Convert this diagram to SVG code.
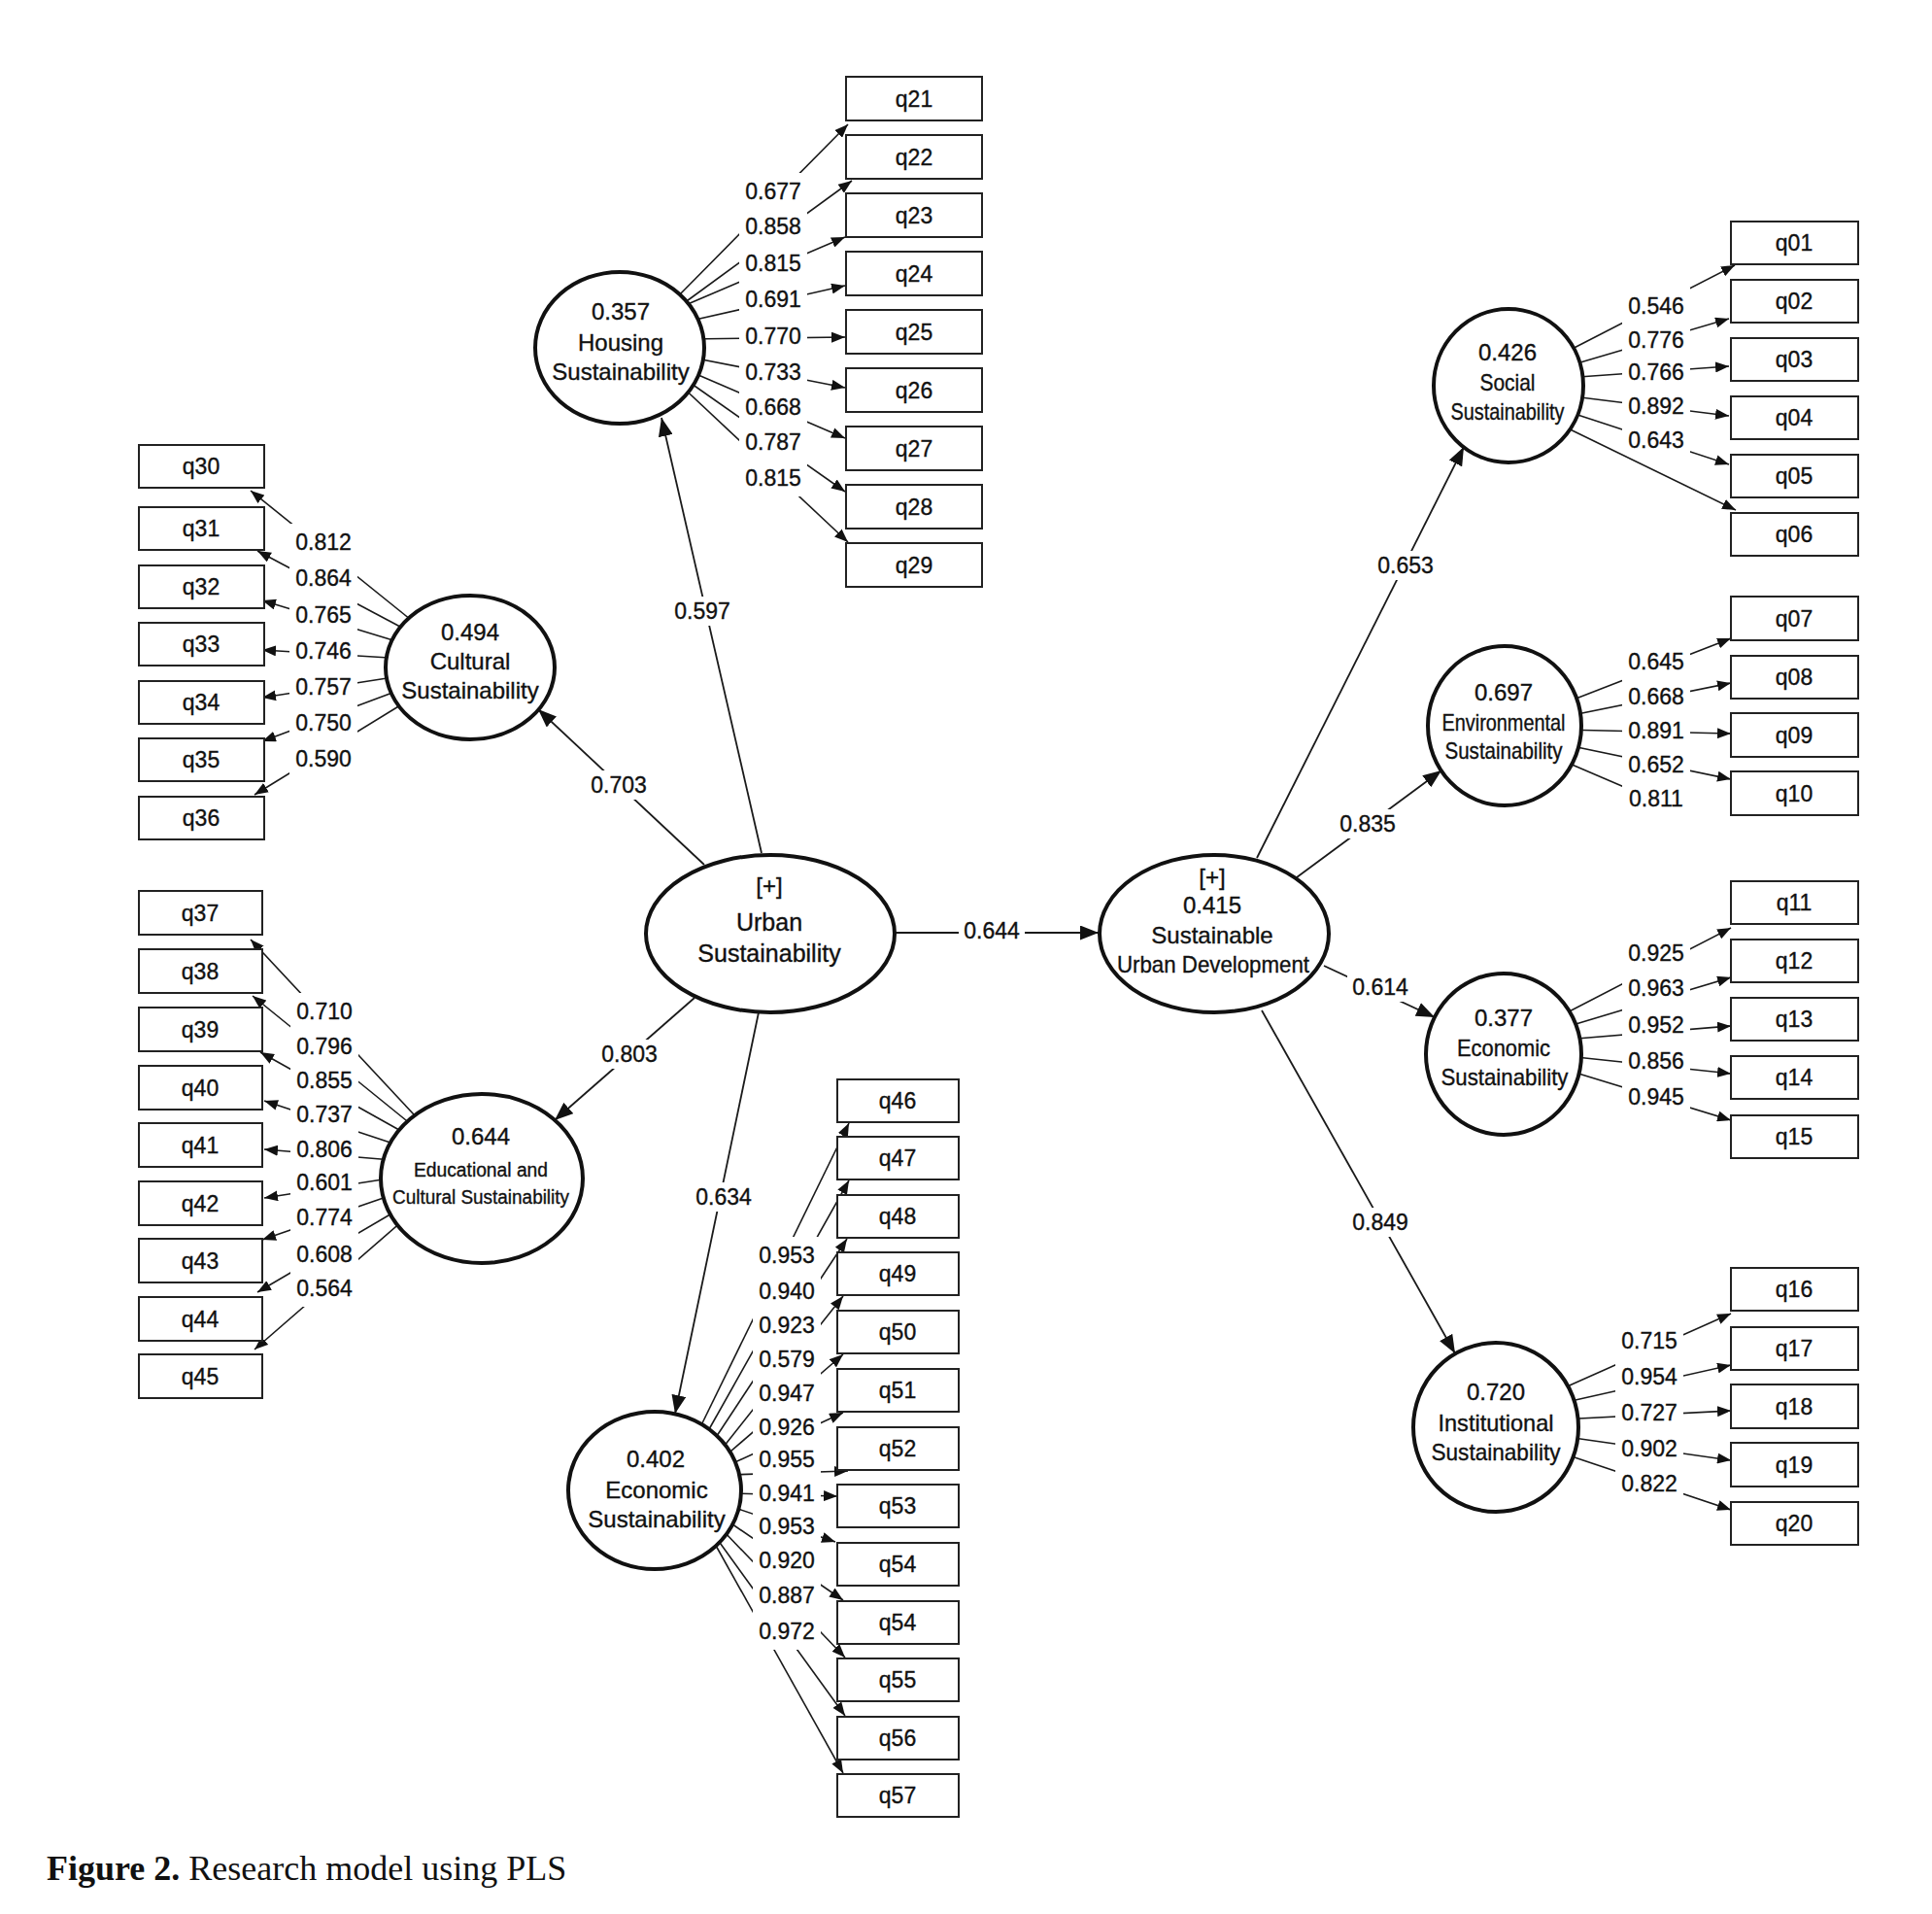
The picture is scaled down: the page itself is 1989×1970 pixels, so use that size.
<svg xmlns="http://www.w3.org/2000/svg" width="1989" height="1970" viewBox="0 0 1989 1970">
<style>
text{font-family:"Liberation Sans",Arial,sans-serif;fill:#111;stroke:#111;stroke-width:0.35}
.c{stroke:#1a1a1a;stroke-width:1.6;fill:none;marker-end:url(#ah)}
.c0{stroke:#1a1a1a;stroke-width:1.6;fill:none}
.s{stroke:#1a1a1a;stroke-width:1.8;fill:none;marker-end:url(#AH)}
.bg{fill:#fff}
.lb{font-size:23px;text-anchor:middle}
.lv ellipse{fill:#fff;stroke:#111;stroke-width:4}
.lv text{font-size:24px;text-anchor:middle}
.mv rect{fill:#fff;stroke:#222;stroke-width:2}
.mv text{font-size:23px;text-anchor:middle}
.cap{font-family:"Liberation Serif","Times New Roman",serif;font-size:36px;stroke:none}
</style>
<defs>
<marker id="ah" markerUnits="userSpaceOnUse" markerWidth="14" markerHeight="11" refX="14" refY="5.5" orient="auto"><path d="M0,0 L14,5.5 L0,11 z" fill="#111"/></marker>
<marker id="AH" markerUnits="userSpaceOnUse" markerWidth="19" markerHeight="15" refX="19" refY="7.5" orient="auto"><path d="M0,0 L19,7.5 L0,15 z" fill="#111"/></marker>
</defs>
<rect width="1989" height="1970" fill="#fff"/>

<g id="connectors">
<line class="s" x1="784" y1="878" x2="681" y2="430"/>
<line class="s" x1="725" y1="890" x2="554" y2="730"/>
<line class="s" x1="715" y1="1027" x2="571" y2="1153"/>
<line class="s" x1="781" y1="1042" x2="695" y2="1455"/>
<line class="s" x1="921" y1="960" x2="1131" y2="960"/>
<line class="s" x1="1294" y1="883" x2="1507" y2="460"/>
<line class="s" x1="1335" y1="903" x2="1484" y2="793"/>
<line class="s" x1="1363" y1="994" x2="1477" y2="1047"/>
<line class="s" x1="1299" y1="1040" x2="1498" y2="1393"/>
<line class="c" x1="695" y1="308" x2="873" y2="128"/>
<line class="c" x1="700" y1="315" x2="877" y2="186"/>
<line class="c" x1="701" y1="316" x2="870" y2="244"/>
<line class="c" x1="707" y1="331" x2="870" y2="294"/>
<line class="c" x1="709" y1="349" x2="870" y2="347"/>
<line class="c" x1="707" y1="367" x2="870" y2="399"/>
<line class="c" x1="705" y1="380" x2="870" y2="451"/>
<line class="c" x1="702" y1="388" x2="870" y2="506"/>
<line class="c" x1="698" y1="394" x2="873" y2="558"/>
<line class="c" x1="433" y1="646" x2="258" y2="505"/>
<line class="c" x1="427" y1="653" x2="265" y2="567"/>
<line class="c" x1="421" y1="664" x2="270" y2="618"/>
<line class="c" x1="417" y1="678" x2="270" y2="669"/>
<line class="c" x1="418" y1="695" x2="270" y2="718"/>
<line class="c" x1="420" y1="707" x2="270" y2="763"/>
<line class="c" x1="425" y1="718" x2="262" y2="818"/>
<line class="c" x1="439" y1="1161" x2="258" y2="967"/>
<line class="c" x1="434" y1="1166" x2="260" y2="1025"/>
<line class="c" x1="427" y1="1172" x2="268" y2="1083"/>
<line class="c" x1="420" y1="1182" x2="272" y2="1133"/>
<line class="c" x1="416" y1="1195" x2="272" y2="1183"/>
<line class="c" x1="413" y1="1211" x2="272" y2="1233"/>
<line class="c" x1="415" y1="1226" x2="270" y2="1276"/>
<line class="c" x1="417" y1="1241" x2="265" y2="1330"/>
<line class="c" x1="422" y1="1250" x2="262" y2="1389"/>
<line class="c" x1="718" y1="1475" x2="874" y2="1156"/>
<line class="c" x1="725" y1="1480" x2="874" y2="1215"/>
<line class="c" x1="732" y1="1487" x2="872" y2="1275"/>
<line class="c" x1="741" y1="1494" x2="868" y2="1334"/>
<line class="c" x1="745" y1="1500" x2="868" y2="1394"/>
<line class="c" x1="748" y1="1509" x2="868" y2="1454"/>
<line class="c" x1="750" y1="1518" x2="873" y2="1514"/>
<line class="c" x1="752" y1="1537" x2="862" y2="1540"/>
<line class="c" x1="751" y1="1550" x2="860" y2="1587"/>
<line class="c" x1="747" y1="1564" x2="868" y2="1647"/>
<line class="c" x1="744" y1="1575" x2="870" y2="1706"/>
<line class="c" x1="739" y1="1585" x2="870" y2="1766"/>
<line class="c" x1="736" y1="1589" x2="868" y2="1825"/>
<line class="c" x1="1605" y1="366" x2="1786" y2="273"/>
<line class="c" x1="1610" y1="378" x2="1780" y2="328"/>
<line class="c" x1="1611" y1="389" x2="1780" y2="377"/>
<line class="c" x1="1611" y1="407" x2="1780" y2="428"/>
<line class="c" x1="1609" y1="422" x2="1780" y2="478"/>
<line class="c" x1="1600" y1="434" x2="1787" y2="525"/>
<line class="c" x1="1607" y1="725" x2="1782" y2="657"/>
<line class="c" x1="1609" y1="738" x2="1782" y2="703"/>
<line class="c" x1="1609" y1="751" x2="1782" y2="755"/>
<line class="c" x1="1609" y1="766" x2="1782" y2="802"/>
<line class="c0" x1="1602" y1="780" x2="1700" y2="822"/>
<line class="c" x1="1604" y1="1047" x2="1782" y2="955"/>
<line class="c" x1="1609" y1="1058" x2="1782" y2="1006"/>
<line class="c" x1="1611" y1="1070" x2="1782" y2="1056"/>
<line class="c" x1="1613" y1="1087" x2="1782" y2="1105"/>
<line class="c" x1="1612" y1="1101" x2="1782" y2="1153"/>
<line class="c" x1="1600" y1="1433" x2="1782" y2="1352"/>
<line class="c" x1="1604" y1="1445" x2="1782" y2="1405"/>
<line class="c" x1="1606" y1="1461" x2="1782" y2="1452"/>
<line class="c" x1="1606" y1="1478" x2="1782" y2="1503"/>
<line class="c" x1="1603" y1="1494" x2="1782" y2="1554"/>
</g>

<g id="connector-labels">
<rect class="bg" x="689" y="614" width="68" height="30"/><text class="lb" x="723" y="637">0.597</text>
<rect class="bg" x="603" y="793" width="68" height="30"/><text class="lb" x="637" y="816">0.703</text>
<rect class="bg" x="614" y="1070" width="68" height="30"/><text class="lb" x="648" y="1093">0.803</text>
<rect class="bg" x="711" y="1217" width="68" height="30"/><text class="lb" x="745" y="1240">0.634</text>
<rect class="bg" x="987" y="943" width="68" height="30"/><text class="lb" x="1021" y="966">0.644</text>
<rect class="bg" x="1413" y="567" width="68" height="30"/><text class="lb" x="1447" y="590">0.653</text>
<rect class="bg" x="1374" y="833" width="68" height="30"/><text class="lb" x="1408" y="856">0.835</text>
<rect class="bg" x="1387" y="1001" width="68" height="30"/><text class="lb" x="1421" y="1024">0.614</text>
<rect class="bg" x="1387" y="1243" width="68" height="30"/><text class="lb" x="1421" y="1266">0.849</text>

<rect class="bg" x="761" y="178" width="70" height="38"/><text class="lb" x="796" y="205">0.677</text>
<rect class="bg" x="761" y="214" width="70" height="38"/><text class="lb" x="796" y="241">0.858</text>
<rect class="bg" x="761" y="252" width="70" height="38"/><text class="lb" x="796" y="279">0.815</text>
<rect class="bg" x="761" y="289" width="70" height="38"/><text class="lb" x="796" y="316">0.691</text>
<rect class="bg" x="761" y="327" width="70" height="38"/><text class="lb" x="796" y="354">0.770</text>
<rect class="bg" x="761" y="364" width="70" height="38"/><text class="lb" x="796" y="391">0.733</text>
<rect class="bg" x="761" y="400" width="70" height="38"/><text class="lb" x="796" y="427">0.668</text>
<rect class="bg" x="761" y="436" width="70" height="38"/><text class="lb" x="796" y="463">0.787</text>
<rect class="bg" x="761" y="473" width="70" height="38"/><text class="lb" x="796" y="500">0.815</text>

<rect class="bg" x="298" y="539" width="70" height="38"/><text class="lb" x="333" y="566">0.812</text>
<rect class="bg" x="298" y="576" width="70" height="38"/><text class="lb" x="333" y="603">0.864</text>
<rect class="bg" x="298" y="614" width="70" height="38"/><text class="lb" x="333" y="641">0.765</text>
<rect class="bg" x="298" y="651" width="70" height="38"/><text class="lb" x="333" y="678">0.746</text>
<rect class="bg" x="298" y="688" width="70" height="38"/><text class="lb" x="333" y="715">0.757</text>
<rect class="bg" x="298" y="725" width="70" height="38"/><text class="lb" x="333" y="752">0.750</text>
<rect class="bg" x="298" y="762" width="70" height="38"/><text class="lb" x="333" y="789">0.590</text>

<rect class="bg" x="299" y="1022" width="70" height="38"/><text class="lb" x="334" y="1049">0.710</text>
<rect class="bg" x="299" y="1058" width="70" height="38"/><text class="lb" x="334" y="1085">0.796</text>
<rect class="bg" x="299" y="1093" width="70" height="38"/><text class="lb" x="334" y="1120">0.855</text>
<rect class="bg" x="299" y="1128" width="70" height="38"/><text class="lb" x="334" y="1155">0.737</text>
<rect class="bg" x="299" y="1164" width="70" height="38"/><text class="lb" x="334" y="1191">0.806</text>
<rect class="bg" x="299" y="1198" width="70" height="38"/><text class="lb" x="334" y="1225">0.601</text>
<rect class="bg" x="299" y="1234" width="70" height="38"/><text class="lb" x="334" y="1261">0.774</text>
<rect class="bg" x="299" y="1272" width="70" height="38"/><text class="lb" x="334" y="1299">0.608</text>
<rect class="bg" x="299" y="1307" width="70" height="38"/><text class="lb" x="334" y="1334">0.564</text>

<rect class="bg" x="775" y="1273" width="70" height="38"/><text class="lb" x="810" y="1300">0.953</text>
<rect class="bg" x="775" y="1310" width="70" height="38"/><text class="lb" x="810" y="1337">0.940</text>
<rect class="bg" x="775" y="1345" width="70" height="38"/><text class="lb" x="810" y="1372">0.923</text>
<rect class="bg" x="775" y="1380" width="70" height="38"/><text class="lb" x="810" y="1407">0.579</text>
<rect class="bg" x="775" y="1415" width="70" height="38"/><text class="lb" x="810" y="1442">0.947</text>
<rect class="bg" x="775" y="1450" width="70" height="38"/><text class="lb" x="810" y="1477">0.926</text>
<rect class="bg" x="775" y="1483" width="70" height="38"/><text class="lb" x="810" y="1510">0.955</text>
<rect class="bg" x="775" y="1518" width="70" height="38"/><text class="lb" x="810" y="1545">0.941</text>
<rect class="bg" x="775" y="1552" width="70" height="38"/><text class="lb" x="810" y="1579">0.953</text>
<rect class="bg" x="775" y="1587" width="70" height="38"/><text class="lb" x="810" y="1614">0.920</text>
<rect class="bg" x="775" y="1623" width="70" height="38"/><text class="lb" x="810" y="1650">0.887</text>
<rect class="bg" x="775" y="1660" width="70" height="38"/><text class="lb" x="810" y="1687">0.972</text>

<rect class="bg" x="1670" y="296" width="70" height="38"/><text class="lb" x="1705" y="323">0.546</text>
<rect class="bg" x="1670" y="331" width="70" height="38"/><text class="lb" x="1705" y="358">0.776</text>
<rect class="bg" x="1670" y="364" width="70" height="38"/><text class="lb" x="1705" y="391">0.766</text>
<rect class="bg" x="1670" y="399" width="70" height="38"/><text class="lb" x="1705" y="426">0.892</text>
<rect class="bg" x="1670" y="436" width="70" height="30"/><text class="lb" x="1705" y="461">0.643</text>

<rect class="bg" x="1670" y="662" width="70" height="38"/><text class="lb" x="1705" y="689">0.645</text>
<rect class="bg" x="1670" y="698" width="70" height="38"/><text class="lb" x="1705" y="725">0.668</text>
<rect class="bg" x="1670" y="733" width="70" height="38"/><text class="lb" x="1705" y="760">0.891</text>
<rect class="bg" x="1670" y="768" width="70" height="38"/><text class="lb" x="1705" y="795">0.652</text>
<rect class="bg" x="1670" y="803" width="70" height="38"/><text class="lb" x="1705" y="830">0.811</text>

<rect class="bg" x="1670" y="962" width="70" height="38"/><text class="lb" x="1705" y="989">0.925</text>
<rect class="bg" x="1670" y="998" width="70" height="38"/><text class="lb" x="1705" y="1025">0.963</text>
<rect class="bg" x="1670" y="1036" width="70" height="38"/><text class="lb" x="1705" y="1063">0.952</text>
<rect class="bg" x="1670" y="1073" width="70" height="38"/><text class="lb" x="1705" y="1100">0.856</text>
<rect class="bg" x="1670" y="1110" width="70" height="38"/><text class="lb" x="1705" y="1137">0.945</text>

<rect class="bg" x="1663" y="1361" width="70" height="38"/><text class="lb" x="1698" y="1388">0.715</text>
<rect class="bg" x="1663" y="1398" width="70" height="38"/><text class="lb" x="1698" y="1425">0.954</text>
<rect class="bg" x="1663" y="1435" width="70" height="38"/><text class="lb" x="1698" y="1462">0.727</text>
<rect class="bg" x="1663" y="1472" width="70" height="38"/><text class="lb" x="1698" y="1499">0.902</text>
<rect class="bg" x="1663" y="1508" width="70" height="38"/><text class="lb" x="1698" y="1535">0.822</text>
</g>

<g id="urban-sustainability" class="lv">
<ellipse cx="793" cy="961" rx="128" ry="81"/>
<text x="792" y="920">[+]</text>
<text x="792" y="958" style="font-size:25px">Urban</text>
<text x="792" y="990" style="font-size:25px">Sustainability</text>
</g>
<g id="sustainable-urban-development" class="lv">
<ellipse cx="1250" cy="961" rx="118" ry="81"/>
<text x="1248" y="911">[+]</text>
<text x="1248" y="940">0.415</text>
<text x="1248" y="971">Sustainable</text>
<text x="1249" y="1001" textLength="198" lengthAdjust="spacingAndGlyphs">Urban Development</text>
</g>
<g id="housing-sustainability" class="lv">
<ellipse cx="638" cy="358" rx="87" ry="78"/>
<text x="639" y="329">0.357</text>
<text x="639" y="361">Housing</text>
<text x="639" y="391">Sustainability</text>
</g>
<g id="cultural-sustainability" class="lv">
<ellipse cx="484" cy="687" rx="87" ry="74"/>
<text x="484" y="659">0.494</text>
<text x="484" y="689">Cultural</text>
<text x="484" y="719">Sustainability</text>
</g>
<g id="educational-cultural-sustainability" class="lv">
<ellipse cx="496" cy="1213" rx="104" ry="87"/>
<text x="495" y="1178">0.644</text>
<text x="495" y="1211" style="font-size:20px" textLength="138" lengthAdjust="spacingAndGlyphs">Educational and</text>
<text x="495" y="1239" style="font-size:20px" textLength="182" lengthAdjust="spacingAndGlyphs">Cultural Sustainability</text>
</g>
<g id="economic-sustainability-left" class="lv">
<ellipse cx="674" cy="1534" rx="89" ry="81"/>
<text x="675" y="1510">0.402</text>
<text x="676" y="1542">Economic</text>
<text x="676" y="1572">Sustainability</text>
</g>
<g id="social-sustainability" class="lv">
<ellipse cx="1553" cy="397" rx="77" ry="79"/>
<text x="1552" y="371">0.426</text>
<text x="1552" y="402" textLength="57" lengthAdjust="spacingAndGlyphs">Social</text>
<text x="1552" y="432" textLength="117" lengthAdjust="spacingAndGlyphs">Sustainability</text>
</g>
<g id="environmental-sustainability" class="lv">
<ellipse cx="1549" cy="747" rx="79" ry="82"/>
<text x="1548" y="721">0.697</text>
<text x="1548" y="752" textLength="127" lengthAdjust="spacingAndGlyphs">Environmental</text>
<text x="1548" y="781" textLength="121" lengthAdjust="spacingAndGlyphs">Sustainability</text>
</g>
<g id="economic-sustainability-right" class="lv">
<ellipse cx="1548" cy="1085" rx="80" ry="83"/>
<text x="1548" y="1056">0.377</text>
<text x="1548" y="1087" textLength="96" lengthAdjust="spacingAndGlyphs">Economic</text>
<text x="1549" y="1117" textLength="131" lengthAdjust="spacingAndGlyphs">Sustainability</text>
</g>
<g id="institutional-sustainability" class="lv">
<ellipse cx="1540" cy="1469" rx="85" ry="87"/>
<text x="1540" y="1441">0.720</text>
<text x="1540" y="1473" textLength="119" lengthAdjust="spacingAndGlyphs">Institutional</text>
<text x="1540" y="1503" textLength="133" lengthAdjust="spacingAndGlyphs">Sustainability</text>
</g>

<g id="q21" class="mv"><rect x="871" y="79" width="140" height="45"/><text x="941" y="110">q21</text></g>
<g id="q22" class="mv"><rect x="871" y="139" width="140" height="45"/><text x="941" y="170">q22</text></g>
<g id="q23" class="mv"><rect x="871" y="199" width="140" height="45"/><text x="941" y="230">q23</text></g>
<g id="q24" class="mv"><rect x="871" y="259" width="140" height="45"/><text x="941" y="290">q24</text></g>
<g id="q25" class="mv"><rect x="871" y="319" width="140" height="45"/><text x="941" y="350">q25</text></g>
<g id="q26" class="mv"><rect x="871" y="379" width="140" height="45"/><text x="941" y="410">q26</text></g>
<g id="q27" class="mv"><rect x="871" y="439" width="140" height="45"/><text x="941" y="470">q27</text></g>
<g id="q28" class="mv"><rect x="871" y="499" width="140" height="45"/><text x="941" y="530">q28</text></g>
<g id="q29" class="mv"><rect x="871" y="559" width="140" height="45"/><text x="941" y="590">q29</text></g>
<g id="q30" class="mv"><rect x="143" y="458" width="129" height="44"/><text x="207" y="488">q30</text></g>
<g id="q31" class="mv"><rect x="143" y="522" width="129" height="44"/><text x="207" y="552">q31</text></g>
<g id="q32" class="mv"><rect x="143" y="582" width="129" height="44"/><text x="207" y="612">q32</text></g>
<g id="q33" class="mv"><rect x="143" y="641" width="129" height="44"/><text x="207" y="671">q33</text></g>
<g id="q34" class="mv"><rect x="143" y="701" width="129" height="44"/><text x="207" y="731">q34</text></g>
<g id="q35" class="mv"><rect x="143" y="760" width="129" height="44"/><text x="207" y="790">q35</text></g>
<g id="q36" class="mv"><rect x="143" y="820" width="129" height="44"/><text x="207" y="850">q36</text></g>
<g id="q37" class="mv"><rect x="143" y="917" width="127" height="45"/><text x="206" y="948">q37</text></g>
<g id="q38" class="mv"><rect x="143" y="977" width="127" height="45"/><text x="206" y="1008">q38</text></g>
<g id="q39" class="mv"><rect x="143" y="1037" width="127" height="45"/><text x="206" y="1068">q39</text></g>
<g id="q40" class="mv"><rect x="143" y="1097" width="127" height="45"/><text x="206" y="1128">q40</text></g>
<g id="q41" class="mv"><rect x="143" y="1156" width="127" height="45"/><text x="206" y="1187">q41</text></g>
<g id="q42" class="mv"><rect x="143" y="1216" width="127" height="45"/><text x="206" y="1247">q42</text></g>
<g id="q43" class="mv"><rect x="143" y="1275" width="127" height="45"/><text x="206" y="1306">q43</text></g>
<g id="q44" class="mv"><rect x="143" y="1335" width="127" height="45"/><text x="206" y="1366">q44</text></g>
<g id="q45" class="mv"><rect x="143" y="1394" width="127" height="45"/><text x="206" y="1425">q45</text></g>
<g id="q46" class="mv"><rect x="862" y="1111" width="125" height="44"/><text x="924" y="1141">q46</text></g>
<g id="q47" class="mv"><rect x="862" y="1170" width="125" height="44"/><text x="924" y="1200">q47</text></g>
<g id="q48" class="mv"><rect x="862" y="1230" width="125" height="44"/><text x="924" y="1260">q48</text></g>
<g id="q49" class="mv"><rect x="862" y="1289" width="125" height="44"/><text x="924" y="1319">q49</text></g>
<g id="q50" class="mv"><rect x="862" y="1349" width="125" height="44"/><text x="924" y="1379">q50</text></g>
<g id="q51" class="mv"><rect x="862" y="1409" width="125" height="44"/><text x="924" y="1439">q51</text></g>
<g id="q52" class="mv"><rect x="862" y="1469" width="125" height="44"/><text x="924" y="1499">q52</text></g>
<g id="q53" class="mv"><rect x="862" y="1528" width="125" height="44"/><text x="924" y="1558">q53</text></g>
<g id="q54" class="mv"><rect x="862" y="1588" width="125" height="44"/><text x="924" y="1618">q54</text></g>
<g id="q54b" class="mv"><rect x="862" y="1648" width="125" height="44"/><text x="924" y="1678">q54</text></g>
<g id="q55" class="mv"><rect x="862" y="1707" width="125" height="44"/><text x="924" y="1737">q55</text></g>
<g id="q56" class="mv"><rect x="862" y="1767" width="125" height="44"/><text x="924" y="1797">q56</text></g>
<g id="q57" class="mv"><rect x="862" y="1826" width="125" height="44"/><text x="924" y="1856">q57</text></g>
<g id="q01" class="mv"><rect x="1782" y="228" width="131" height="44"/><text x="1847" y="258">q01</text></g>
<g id="q02" class="mv"><rect x="1782" y="288" width="131" height="44"/><text x="1847" y="318">q02</text></g>
<g id="q03" class="mv"><rect x="1782" y="348" width="131" height="44"/><text x="1847" y="378">q03</text></g>
<g id="q04" class="mv"><rect x="1782" y="408" width="131" height="44"/><text x="1847" y="438">q04</text></g>
<g id="q05" class="mv"><rect x="1782" y="468" width="131" height="44"/><text x="1847" y="498">q05</text></g>
<g id="q06" class="mv"><rect x="1782" y="528" width="131" height="44"/><text x="1847" y="558">q06</text></g>
<g id="q07" class="mv"><rect x="1782" y="614" width="131" height="45"/><text x="1847" y="645">q07</text></g>
<g id="q08" class="mv"><rect x="1782" y="675" width="131" height="44"/><text x="1847" y="705">q08</text></g>
<g id="q09" class="mv"><rect x="1782" y="734" width="131" height="45"/><text x="1847" y="765">q09</text></g>
<g id="q10" class="mv"><rect x="1782" y="794" width="131" height="45"/><text x="1847" y="825">q10</text></g>
<g id="q11" class="mv"><rect x="1782" y="907" width="131" height="44"/><text x="1847" y="937">q11</text></g>
<g id="q12" class="mv"><rect x="1782" y="967" width="131" height="44"/><text x="1847" y="997">q12</text></g>
<g id="q13" class="mv"><rect x="1782" y="1027" width="131" height="44"/><text x="1847" y="1057">q13</text></g>
<g id="q14" class="mv"><rect x="1782" y="1087" width="131" height="44"/><text x="1847" y="1117">q14</text></g>
<g id="q15" class="mv"><rect x="1782" y="1148" width="131" height="44"/><text x="1847" y="1178">q15</text></g>
<g id="q16" class="mv"><rect x="1782" y="1305" width="131" height="44"/><text x="1847" y="1335">q16</text></g>
<g id="q17" class="mv"><rect x="1782" y="1366" width="131" height="44"/><text x="1847" y="1396">q17</text></g>
<g id="q18" class="mv"><rect x="1782" y="1425" width="131" height="45"/><text x="1847" y="1456">q18</text></g>
<g id="q19" class="mv"><rect x="1782" y="1485" width="131" height="45"/><text x="1847" y="1516">q19</text></g>
<g id="q20" class="mv"><rect x="1782" y="1546" width="131" height="44"/><text x="1847" y="1576">q20</text></g>

<text class="cap" x="48" y="1935"><tspan font-weight="bold">Figure 2.</tspan> Research model using PLS</text>
</svg>
